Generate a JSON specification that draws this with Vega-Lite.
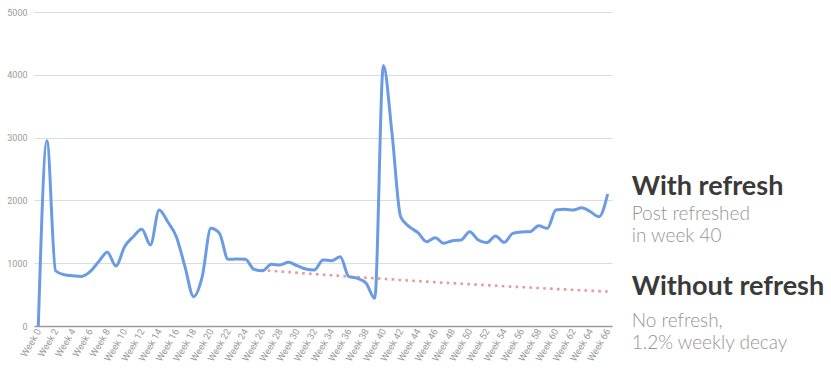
{
  "$schema": "https://vega.github.io/schema/vega-lite/v6.json",
  "width": 578,
  "height": 314,
  "autosize": {"type": "none"},
  "padding": {"left": 34, "top": 12, "right": 219, "bottom": 54},
  "background": "white",
  "config": {"view": {"stroke": null}},
  "datasets": {
    "refresh": [
      {"week": 0, "views": 0}, {"week": 1, "views": 2950}, {"week": 2, "views": 880}, {"week": 3, "views": 815},
      {"week": 4, "views": 800}, {"week": 5, "views": 790}, {"week": 6, "views": 865}, {"week": 7, "views": 1025},
      {"week": 8, "views": 1175}, {"week": 9, "views": 955}, {"week": 10, "views": 1263}, {"week": 11, "views": 1422},
      {"week": 12, "views": 1540}, {"week": 13, "views": 1290}, {"week": 14, "views": 1847}, {"week": 15, "views": 1660},
      {"week": 16, "views": 1422}, {"week": 17, "views": 945}, {"week": 18, "views": 467}, {"week": 19, "views": 785},
      {"week": 20, "views": 1555}, {"week": 21, "views": 1475}, {"week": 22, "views": 1062}, {"week": 23, "views": 1065},
      {"week": 24, "views": 1062}, {"week": 25, "views": 902}, {"week": 26, "views": 880}, {"week": 27, "views": 982},
      {"week": 28, "views": 971}, {"week": 29, "views": 1014}, {"week": 30, "views": 960}, {"week": 31, "views": 908},
      {"week": 32, "views": 892}, {"week": 33, "views": 1051}, {"week": 34, "views": 1040}, {"week": 35, "views": 1104},
      {"week": 36, "views": 785}, {"week": 37, "views": 759}, {"week": 38, "views": 680}, {"week": 39, "views": 441},
      {"week": 40, "views": 4150}, {"week": 41, "views": 3068}, {"week": 42, "views": 1740}, {"week": 43, "views": 1581},
      {"week": 44, "views": 1486}, {"week": 45, "views": 1343}, {"week": 46, "views": 1406}, {"week": 47, "views": 1317},
      {"week": 48, "views": 1359}, {"week": 49, "views": 1369}, {"week": 50, "views": 1502}, {"week": 51, "views": 1369},
      {"week": 52, "views": 1327}, {"week": 53, "views": 1433}, {"week": 54, "views": 1332}, {"week": 55, "views": 1475},
      {"week": 56, "views": 1497}, {"week": 57, "views": 1502}, {"week": 58, "views": 1597}, {"week": 59, "views": 1555},
      {"week": 60, "views": 1847}, {"week": 61, "views": 1858}, {"week": 62, "views": 1847}, {"week": 63, "views": 1884},
      {"week": 64, "views": 1820}, {"week": 65, "views": 1740}, {"week": 66, "views": 2102}
    ],
    "decay": [
      {"week": 25, "views": 900}, {"week": 26, "views": 889}, {"week": 27, "views": 879}, {"week": 28, "views": 868},
      {"week": 29, "views": 858}, {"week": 30, "views": 847}, {"week": 31, "views": 837}, {"week": 32, "views": 827},
      {"week": 33, "views": 817}, {"week": 34, "views": 807}, {"week": 35, "views": 798}, {"week": 36, "views": 788},
      {"week": 37, "views": 779}, {"week": 38, "views": 769}, {"week": 39, "views": 760}, {"week": 40, "views": 751},
      {"week": 41, "views": 742}, {"week": 42, "views": 733}, {"week": 43, "views": 724}, {"week": 44, "views": 715},
      {"week": 45, "views": 707}, {"week": 46, "views": 698}, {"week": 47, "views": 690}, {"week": 48, "views": 682},
      {"week": 49, "views": 674}, {"week": 50, "views": 665}, {"week": 51, "views": 657}, {"week": 52, "views": 650},
      {"week": 53, "views": 642}, {"week": 54, "views": 634}, {"week": 55, "views": 626}, {"week": 56, "views": 619},
      {"week": 57, "views": 612}, {"week": 58, "views": 604}, {"week": 59, "views": 597}, {"week": 60, "views": 590},
      {"week": 61, "views": 583}, {"week": 62, "views": 576}, {"week": 63, "views": 569}, {"week": 64, "views": 562},
      {"week": 65, "views": 555}, {"week": 66, "views": 548}
    ],
    "labels": [
      {"series": "with", "week": 66, "views": 2102, "title": "With refresh", "sub": "Post refreshed\nin week 40"},
      {"series": "without", "week": 66, "views": 548, "title": "Without refresh", "sub": "No refresh,\n1.2% weekly decay"}
    ]
  },
  "encoding": {
    "x": {
      "field": "week", "type": "quantitative",
      "scale": {"domain": [-0.5, 66.5], "nice": false, "zero": false},
      "axis": {
        "title": null,
        "values": [0,2,4,6,8,10,12,14,16,18,20,22,24,26,28,30,32,34,36,38,40,42,44,46,48,50,52,54,56,58,60,62,64,66],
        "labelExpr": "'Week ' + datum.value",
        "labelAngle": -60,
        "labelFont": "Roboto",
        "labelFontSize": 9.5,
        "labelColor": "#9a9a9a",
        "labelPadding": 3,
        "labelOverlap": false,
        "labelFlush": false,
        "ticks": false,
        "grid": false,
        "domainColor": "#9a9a9a",
        "domainWidth": 1.5
      }
    },
    "y": {
      "field": "views", "type": "quantitative",
      "scale": {"domain": [0, 5000], "nice": false},
      "axis": {
        "title": null,
        "values": [0, 1000, 2000, 3000, 4000, 5000],
        "format": "d",
        "labelFont": "Roboto",
        "labelFontSize": 9,
        "labelColor": "#9a9a9a",
        "labelPadding": 7,
        "ticks": false,
        "domain": false,
        "gridColor": "#dcdcdc",
        "gridWidth": 1
      }
    }
  },
  "layer": [
    {
      "data": {"name": "decay"},
      "mark": {"type": "line", "color": "#e39aa0", "strokeWidth": 2.6, "strokeDash": [2.6, 4.3], "clip": false}
    },
    {
      "data": {"name": "refresh"},
      "mark": {"type": "line", "color": "#6a9be3", "strokeWidth": 3, "interpolate": "monotone", "clip": false}
    },
    {
      "data": {"name": "labels"},
      "transform": [{"filter": "datum.series === 'with'"}],
      "mark": {"type": "text", "align": "left", "baseline": "alphabetic", "dx": 24, "dy": 1, "font": "Lato", "fontWeight": "bold", "fontSize": 27, "color": "#3a3a3a", "clip": false},
      "encoding": {"text": {"field": "title"}}
    },
    {
      "data": {"name": "labels"},
      "transform": [{"filter": "datum.series === 'with'"}],
      "mark": {"type": "text", "align": "left", "baseline": "alphabetic", "dx": 24, "dy": 26, "lineBreak": "\n", "lineHeight": 22, "font": "Lato", "fontWeight": 300, "fontSize": 19, "color": "#959595", "clip": false},
      "encoding": {"text": {"field": "sub"}}
    },
    {
      "data": {"name": "labels"},
      "transform": [{"filter": "datum.series === 'without'"}],
      "mark": {"type": "text", "align": "left", "baseline": "alphabetic", "dx": 24, "dy": 3, "font": "Lato", "fontWeight": "bold", "fontSize": 27, "color": "#3a3a3a", "clip": false},
      "encoding": {"text": {"field": "title"}}
    },
    {
      "data": {"name": "labels"},
      "transform": [{"filter": "datum.series === 'without'"}],
      "mark": {"type": "text", "align": "left", "baseline": "alphabetic", "dx": 24, "dy": 35, "lineBreak": "\n", "lineHeight": 22, "font": "Lato", "fontWeight": 300, "fontSize": 19, "color": "#959595", "clip": false},
      "encoding": {"text": {"field": "sub"}}
    }
  ]
}
